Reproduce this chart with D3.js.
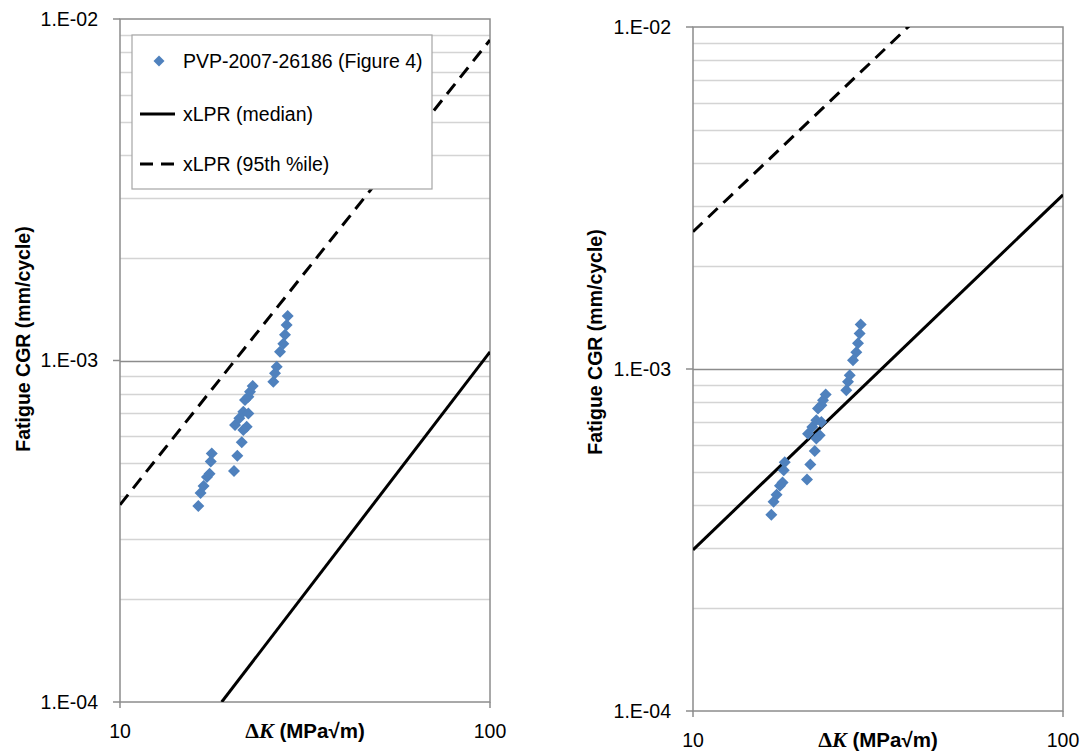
<!DOCTYPE html>
<html>
<head>
<meta charset="utf-8">
<script src="https://cdn.jsdelivr.net/npm/d3@7"></script>
<style>
  body { margin: 0; background: #fff; }
  text { font-family: "Liberation Sans", Arial, sans-serif; fill: #000; }
</style>
</head>
<body>
<div id="chart"></div>
<script>
// measured data: delta K (MPa√m) vs fatigue crack growth rate (mm/cycle)
const deltaK = [16.28, 16.51, 16.82, 17.18, 17.46, 17.59, 17.70,
  20.33, 20.75, 21.33, 20.46, 21.01, 21.54, 22.0, 21.54, 21.77, 22.23,
  22.46, 22.84, 22.23, 25.96, 26.24, 26.52, 27.07, 27.63, 27.92, 28.21, 28.39]
const cgr = [3.75e-4, 4.09e-4, 4.29e-4, 4.56e-4, 4.66e-4, 5.06e-4, 5.34e-4,
  4.75e-4, 5.26e-4, 5.76e-4, 6.47e-4, 6.77e-4, 7.08e-4, 6.40e-4, 6.26e-4, 7.66e-4, 7.83e-4,
  8.10e-4, 8.42e-4, 7.0e-4, 8.67e-4, 9.18e-4, 9.59e-4, 1.06e-3, 1.12e-3, 1.19e-3, 1.27e-3, 1.35e-3]

// xLPR curves, end points for each panel
const leftMedianK = [18.83, 100]
const leftMedianRate = [1e-4, 1.06e-3]
const left95K = [10, 100]
const left95Rate = [3.78e-4, 8.68e-3]
const rightMedianK = [10, 100]
const rightMedianRate = [2.96e-4, 3.23e-3]
const right95K = [10, 100]
const right95Rate = [2.52e-3, 2.7e-2]

const xTicks = [10, 100]
const yTicks = [1e-4, 1e-3, 1e-2]
const legendLabels = ["PVP-2007-26186 (Figure 4)", "xLPR (median)", "xLPR (95th %ile)"]

const svgWidth = 1081
const svgHeight = 753
const width = 370
const fs = "19.5px"

let svg = d3.select("#chart")
  .append("svg")
  .attr("width", svgWidth)
  .attr("height", svgHeight)

function drawPanel(id, left, top, height, median, p95, yTitleY, withLegend) {
  let g = svg.append("g").attr("transform", `translate(${left}, ${top})`)

  let x = d3.scaleLog().domain([10, 100]).range([0, width])
  let y = d3.scaleLog().domain([1e-4, 1e-2]).range([height, 0])

  // horizontal gridlines
  let minor = []
  ;[1e-4, 1e-3].forEach(d => { for (let i = 2; i <= 9; i++) minor.push(d * i) })
  g.selectAll("line.minor")
    .data(minor)
    .enter()
    .append("line")
    .attr("x1", 0).attr("x2", width)
    .attr("y1", d => Math.round(y(d)) + 0.5)
    .attr("y2", d => Math.round(y(d)) + 0.5)
    .attr("stroke", "#d4d4d4")
    .attr("stroke-width", 1.5)
  g.append("line")
    .attr("x1", 0).attr("x2", width)
    .attr("y1", Math.round(y(1e-3)) + 0.5)
    .attr("y2", Math.round(y(1e-3)) + 0.5)
    .attr("stroke", "#8c8c8c")
    .attr("stroke-width", 1.5)

  // frame
  g.append("rect")
    .attr("x", 0).attr("y", 0)
    .attr("width", width).attr("height", height)
    .attr("fill", "none")
    .attr("stroke", "#8c8c8c")
    .attr("stroke-width", 1.5)

  // ticks
  g.selectAll("line.yt")
    .data(yTicks)
    .enter()
    .append("line")
    .attr("x1", -7).attr("x2", 0)
    .attr("y1", d => y(d)).attr("y2", d => y(d))
    .attr("stroke", "#8c8c8c").attr("stroke-width", 1.5)
  g.selectAll("line.xt")
    .data(xTicks)
    .enter()
    .append("line")
    .attr("x1", d => x(d)).attr("x2", d => x(d))
    .attr("y1", height).attr("y2", height + 6)
    .attr("stroke", "#8c8c8c").attr("stroke-width", 1.5)

  g.selectAll("text.ylab")
    .data(yTicks)
    .enter()
    .append("text")
    .attr("x", -22)
    .attr("y", d => y(d))
    .attr("dy", "0.35em")
    .attr("text-anchor", "end")
    .style("font-size", fs)
    .text(d => "1.E-0" + Math.round(-Math.log10(d)))

  g.selectAll("text.xlab")
    .data(xTicks)
    .enter()
    .append("text")
    .attr("x", d => x(d))
    .attr("y", height + 36)
    .attr("text-anchor", "middle")
    .style("font-size", fs)
    .text(d => d)

  // axis titles
  let xt = g.append("text")
    .attr("x", width / 2)
    .attr("y", height + 36)
    .attr("text-anchor", "middle")
    .style("font-size", "20.5px")
    .style("font-weight", "bold")
  xt.append("tspan").style("font-family", "'Liberation Serif', serif").style("font-size", "22px").text("Δ")
  xt.append("tspan").style("font-family", "'Liberation Serif', serif").style("font-size", "22px").style("font-style", "italic").text("K")
  xt.append("tspan").text(" (MPa√m)")

  g.append("text")
    .attr("transform", `translate(${yTitleY[0] - left}, ${yTitleY[1] - top}) rotate(-90)`)
    .attr("text-anchor", "middle")
    .attr("dy", "0.35em")
    .style("font-size", fs)
    .style("font-weight", "bold")
    .text("Fatigue CGR (mm/cycle)")

  // curves
  g.append("clipPath").attr("id", id)
    .append("rect").attr("width", width).attr("height", height)

  let line = d3.line().x(d => x(d[0])).y(d => y(d[1]))
  let curves = g.append("g").attr("clip-path", `url(#${id})`)
  curves.append("path")
    .attr("d", line(d3.zip(median[0], median[1])))
    .attr("fill", "none").attr("stroke", "#000").attr("stroke-width", 3)
  curves.append("path")
    .attr("d", line(d3.zip(p95[0], p95[1])))
    .attr("fill", "none").attr("stroke", "#000").attr("stroke-width", 3)
    .attr("stroke-dasharray", "13,8")

  // data points
  let diamond = "M0,-6L6,0L0,6L-6,0Z"
  g.selectAll("path.pt")
    .data(d3.zip(deltaK, cgr))
    .enter()
    .append("path")
    .attr("d", diamond)
    .attr("transform", d => `translate(${x(d[0])}, ${y(d[1])})`)
    .attr("fill", "#4f81bd")

  if (withLegend) {
    let lg = g.append("g").attr("transform", "translate(12, 16)")
    lg.append("rect")
      .attr("width", 300).attr("height", 154)
      .attr("fill", "#fff")
      .attr("stroke", "#a6a6a6").attr("stroke-width", 1.2)
    lg.append("path").attr("d", "M0,-5.5L5.5,0L0,5.5L-5.5,0Z")
      .attr("transform", "translate(27, 26)")
      .attr("fill", "#4f81bd")
    lg.append("line").attr("x1", 8).attr("x2", 43).attr("y1", 79).attr("y2", 79)
      .attr("stroke", "#000").attr("stroke-width", 2.8)
    lg.append("line").attr("x1", 8).attr("x2", 43).attr("y1", 129).attr("y2", 129)
      .attr("stroke", "#000").attr("stroke-width", 2.8)
      .attr("stroke-dasharray", "13,8")
    lg.selectAll("text.leg")
      .data(legendLabels)
      .enter()
      .append("text")
      .attr("x", 51)
      .attr("y", (d, i) => [26, 79, 129][i])
      .attr("dy", "0.35em")
      .style("font-size", fs)
      .text(d => d)
  }
}

drawPanel("clipL", 120, 19, 683, [leftMedianK, leftMedianRate], [left95K, left95Rate], [23, 339], true)
drawPanel("clipR", 693, 27, 684, [rightMedianK, rightMedianRate], [right95K, right95Rate], [595, 342], false)
</script>
</body>
</html>
